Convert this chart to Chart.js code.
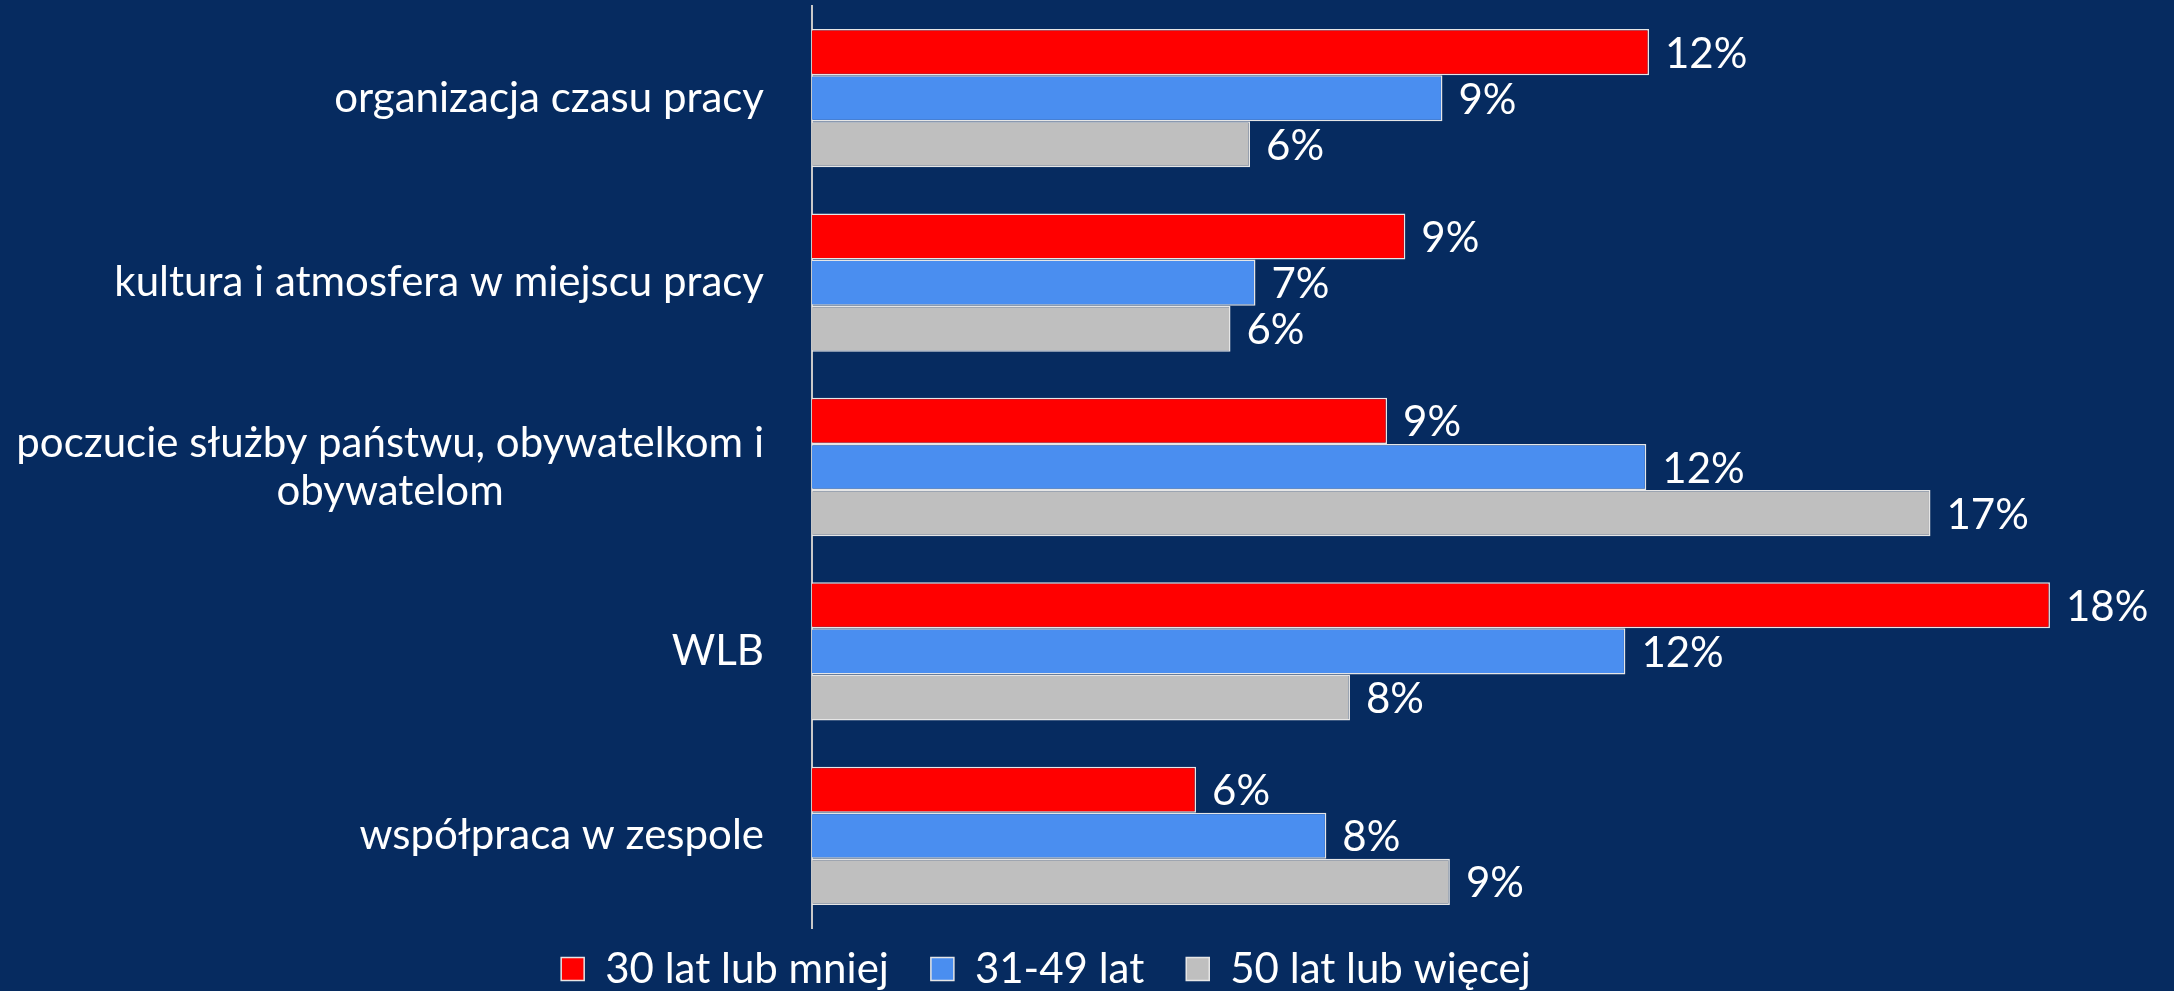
<!DOCTYPE html>
<html>
<head>
<meta charset="utf-8">
<script src="https://cdn.jsdelivr.net/npm/chart.js@4.4.1/dist/chart.umd.min.js"></script>
<style>
  html, body { margin: 0; padding: 0; background: #062B60; }
  #wrap { width: 2174px; height: 991px; position: relative; }
</style>
</head>
<body>
<div id="wrap"><canvas id="c" width="2174" height="991"></canvas></div>
<script>
// ---- data ----
const categories = [
  'organizacja czasu pracy',
  'kultura i atmosfera w miejscu pracy',
  ['poczucie służby państwu, obywatelkom i', 'obywatelom'],
  'WLB',
  'współpraca w zespole'
];
const seriesNames = ['30 lat lub mniej', '31-49 lat', '50 lat lub więcej'];
const young  = [12.40, 8.79, 8.52, 18.34, 5.69];
const middle = [9.34, 6.57, 12.36, 12.05, 7.62];
const older  = [6.49, 6.20, 16.57, 7.97, 9.45];

const BG = '#062B60';
const FONT = 'Lato';
const FS = 42;

const bgPlugin = {
  id: 'bg',
  beforeDraw(chart) {
    const ctx = chart.ctx;
    ctx.save();
    ctx.fillStyle = BG;
    ctx.fillRect(0, 0, chart.width, chart.height);
    ctx.restore();
  }
};

// category labels: single lines right-aligned, multi-line block centred
const catLabelPlugin = {
  id: 'catLabels',
  afterDraw(chart) {
    const s = chart.scales.y;
    const ctx = chart.ctx;
    ctx.save();
    ctx.font = FS + 'px ' + FONT;
    ctx.fillStyle = '#ffffff';
    ctx.textBaseline = 'middle';
    const right = chart.chartArea.left - 48;
    const lh = 48;
    s.ticks.forEach((t, i) => {
      const lab = categories[i];
      const lines = Array.isArray(lab) ? lab : [lab];
      const y0 = s.getPixelForTick(i);
      const widest = Math.max(...lines.map(l => ctx.measureText(l).width));
      lines.forEach((l, j) => {
        const y = y0 + (j - (lines.length - 1) / 2) * lh;
        if (lines.length > 1) {
          ctx.textAlign = 'center';
          ctx.fillText(l, right - widest / 2, y);
        } else {
          ctx.textAlign = 'right';
          ctx.fillText(l, right, y);
        }
      });
    });
    ctx.restore();
  }
};

const valueLabelPlugin = {
  id: 'valueLabels',
  afterDatasetsDraw(chart) {
    const ctx = chart.ctx;
    ctx.save();
    ctx.font = FS + 'px ' + FONT;
    ctx.fillStyle = '#ffffff';
    ctx.textBaseline = 'middle';
    ctx.textAlign = 'left';
    chart.data.datasets.forEach((ds, di) => {
      const meta = chart.getDatasetMeta(di);
      meta.data.forEach((bar, i) => {
        ctx.fillText(Math.round(ds.data[i]) + '%', bar.x + 16, bar.y + 2);
      });
    });
    ctx.restore();
  }
};

const LEG_PAD = 42;
const legendShift = {
  id: 'legendShift',
  afterLayout(chart) {
    const lg = chart.legend;
    if (!lg) return;
    const dx = 1046 - (lg.left + lg.right) / 2;
    lg.left += dx; lg.right += dx;
    lg.top = 969 - LEG_PAD - FS / 2;
    lg.bottom = chart.height;
  }
};

function draw() {
  new Chart(document.getElementById('c'), {
    type: 'bar',
    data: {
      labels: categories,
      datasets: [
        { label: seriesNames[0], data: young,  backgroundColor: '#FF0000', borderColor: '#E6E6E6', borderWidth: 1.5 },
        { label: seriesNames[1], data: middle, backgroundColor: '#4A8EF0', borderColor: '#E6E6E6', borderWidth: 1.5 },
        { label: seriesNames[2], data: older,  backgroundColor: '#BFBFBF', borderColor: '#E6E6E6', borderWidth: 1.5 }
      ]
    },
    options: {
      indexAxis: 'y',
      responsive: false,
      animation: false,
      devicePixelRatio: 1,
      categoryPercentage: 0.75,
      barPercentage: 1.0,
      layout: { padding: { top: 6, right: 12, bottom: 0, left: 0 } },
      scales: {
        x: { display: false, min: 0, max: 20 },
        y: {
          display: true,
          grid: { display: false },
          ticks: { display: false },
          border: { display: true, color: '#C8C8C8', width: 2 },
          afterFit(scale) { scale.width = 812; }
        }
      },
      plugins: {
        legend: {
          position: 'bottom',
          maxHeight: 63,
          labels: {
            color: '#ffffff',
            font: { family: FONT, size: FS },
            boxWidth: 23,
            boxHeight: 23,
            padding: LEG_PAD
          }
        },
        tooltip: { enabled: false }
      }
    },
    plugins: [bgPlugin, catLabelPlugin, valueLabelPlugin, legendShift]
  });
}

if (document.fonts && document.fonts.load) {
  document.fonts.load(FS + 'px Lato').then(draw, draw);
} else {
  draw();
}
</script>
</body>
</html>
